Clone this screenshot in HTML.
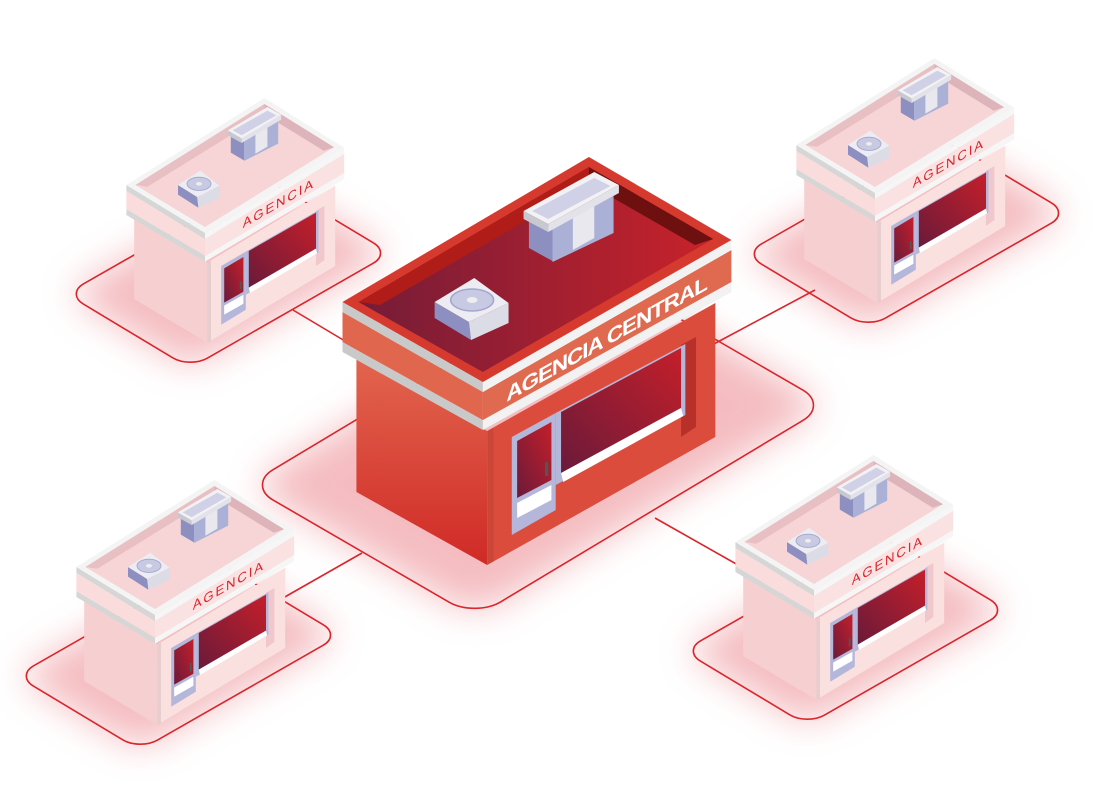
<!DOCTYPE html>
<html><head><meta charset="utf-8"><style>
html,body{margin:0;padding:0;background:#fff;}
svg{display:block;}
.c{--wl:url(#gcl);--wr:#dc4c3c;--wrs:#b8302a;--tw:#f2f2f2;--tw2:#c9c9c9;--bl:#e0674e;--br:#e06a50;--rim:#d63a2e;--floor:url(#gcf);--iwl:#b01c18;--iwr:#6e1010;}
.s{--wl:#f6d0d0;--wr:#fbe0e0;--wrs:#f0c8cc;--tw:#f6f6f6;--tw2:#d6d6d6;--bl:#fadcdc;--br:#fbe2e2;--rim:#f4f4f4;--floor:#f7d4d6;--iwl:#e8c0c4;--iwr:#dcb4ba;}
</style></head><body>
<svg width="1109" height="796" viewBox="0 0 1109 796" xmlns="http://www.w3.org/2000/svg">
<defs>
<linearGradient id="gcl" x1="0" y1="0" x2="0" y2="1"><stop offset="0" stop-color="#e2654e"/><stop offset="1" stop-color="#d02a26"/></linearGradient>
<linearGradient id="gcf" x1="0" y1="0" x2="1" y2="0"><stop offset="0" stop-color="#741c38"/><stop offset="1" stop-color="#c8222a"/></linearGradient>
<linearGradient id="gg" x1="0" y1="1" x2="1" y2="0"><stop offset="0" stop-color="#6a1a3a"/><stop offset="1" stop-color="#c41f2a"/></linearGradient>
<filter id="bl" x="-50%" y="-50%" width="200%" height="200%"><feGaussianBlur stdDeviation="18"/></filter>
<g id="b">
<polygon points="350,358 472,431 472,565 350,492" style="fill:var(--wl)"/>
<polygon points="472,431 685,303 685,437 472,565" style="fill:var(--wr)"/>
<polygon points="653,345 667,337 667,427 653,437" style="fill:var(--wrs)"/>
<polygon points="472,431 478,428 478,562 472,565" fill="#000" opacity="0.08"/>
<polygon points="495,437 536,413 536,510 495,535" fill="#b4b6da"/>
<polygon points="500,441 532,422 532,480 500,498" fill="url(#gg)"/>
<polygon points="500,503 532,485 532,500 500,518" fill="#ffffff"/>
<rect x="526" y="462" width="3" height="14" fill="#555"/>
<polygon points="536,413 657,344 657,415 536,485" fill="#b4b6da"/>
<polygon points="541,412 653,348 653,408 541,473" fill="url(#gg)"/>
<polygon points="541,473 653,408 655,416 543,482" fill="#ffffff"/>
<polygon points="337,342 468,420 468,430 337,352" style="fill:var(--tw2)"/>
<polygon points="468,420 700,282 700,292 468,430" style="fill:var(--tw)"/>
<polygon points="337,312 468,392 468,420 337,342" style="fill:var(--bl)"/>
<polygon points="468,392 700,250 700,282 468,420" style="fill:var(--br)"/>
<polygon points="337,302 468,382 468,392 337,312" style="fill:var(--tw2)"/>
<polygon points="468,382 700,240 700,250 468,392" style="fill:var(--tw)"/>
<polygon points="337,302 567,157 700,240 468,382" style="fill:var(--rim)"/>
<polygon points="352,302 567,167 683,239 468,372" style="fill:var(--floor)"/>
<polygon points="352,302 567,167 567,184 372,305" style="fill:var(--iwl)"/>
<polygon points="567,167 683,239 666,245 567,184" style="fill:var(--iwr)"/>
<polygon points="423,302 455,322 457,340 423,318" fill="#8c8fc0"/>
<polygon points="455,322 492,303 492,323 457,340" fill="#dcdce6"/>
<polygon points="423,302 460,278 492,303 455,322" fill="#ececf2"/>
<ellipse cx="458" cy="300" rx="20" ry="11" fill="#c8c9e2" stroke="#a4a6cc" stroke-width="1.5"/>
<ellipse cx="458" cy="300" rx="5" ry="3" fill="#eee"/>
<polygon points="511,216 533,229 533,261 511,248" fill="#8c8fc0"/>
<polygon points="533,229 590,196 590,233 533,262" fill="#aab0d6"/>
<polygon points="552,218 572,206 572,238 552,250" fill="#e8e8ee"/>
<polygon points="506,211 529,224 529,232 506,219" fill="#c8c8d0"/>
<polygon points="529,224 595,185 595,193 529,232" fill="#e2e2ea"/>
<polygon points="506,211 572,172 595,185 529,224" fill="#f2f2f4"/>
<polygon points="514,211 572,178 587,186 529,219" fill="#d0d1e6"/>
</g>
</defs>

<g filter="url(#bl)" opacity="0.7">
<rect x="-12" y="-12" width="412" height="263" rx="30" fill="#f0a0a6" transform="matrix(0.858,-0.515,-0.866,-0.502,475,605)"/>
<rect x="-8" y="-8" width="231" height="144" rx="20" fill="#f0a0a6" transform="matrix(0.869,-0.497,-0.859,-0.516,190,360)"/>
<rect x="-8" y="-8" width="231" height="144" rx="20" fill="#f0a0a6" transform="matrix(0.869,-0.497,-0.859,-0.516,868,320)"/>
<rect x="-8" y="-8" width="231" height="144" rx="20" fill="#f0a0a6" transform="matrix(0.869,-0.497,-0.859,-0.516,140,742)"/>
<rect x="-8" y="-8" width="231" height="144" rx="20" fill="#f0a0a6" transform="matrix(0.869,-0.497,-0.859,-0.516,807,717)"/>
</g>
<g fill="none" stroke="#d8262c" stroke-width="1.6">
<rect x="-12" y="-12" width="412" height="263" rx="30" vector-effect="non-scaling-stroke" transform="matrix(0.858,-0.515,-0.866,-0.502,475,605)"/>
<rect x="-8" y="-8" width="231" height="144" rx="20" vector-effect="non-scaling-stroke" transform="matrix(0.869,-0.497,-0.859,-0.516,190,360)"/>
<rect x="-8" y="-8" width="231" height="144" rx="20" vector-effect="non-scaling-stroke" transform="matrix(0.869,-0.497,-0.859,-0.516,868,320)"/>
<rect x="-8" y="-8" width="231" height="144" rx="20" vector-effect="non-scaling-stroke" transform="matrix(0.869,-0.497,-0.859,-0.516,140,742)"/>
<rect x="-8" y="-8" width="231" height="144" rx="20" vector-effect="non-scaling-stroke" transform="matrix(0.869,-0.497,-0.859,-0.516,807,717)"/>
<line x1="293" y1="310" x2="360" y2="350"/>
<line x1="815" y1="290" x2="712" y2="345"/>
<line x1="283" y1="598" x2="362" y2="553"/>
<line x1="655" y1="518" x2="738" y2="565"/>
</g>

<g transform="translate(-75.8,3.8) scale(0.6)">
<use href="#b" class="s"/>
<text transform="translate(531,374) skewY(-30)" font-family="Liberation Sans, sans-serif" font-size="22" fill="#d8262c" textLength="117" lengthAdjust="spacing">AGENCIA</text>
</g>
<g transform="translate(594.2,-36.2) scale(0.6)">
<use href="#b" class="s"/>
<text transform="translate(531,374) skewY(-30)" font-family="Liberation Sans, sans-serif" font-size="22" fill="#d8262c" textLength="117" lengthAdjust="spacing">AGENCIA</text>
</g>
<g transform="matrix(1.0714,0,0,1,-18.57,0)">
<use href="#b" class="c"/>
<text transform="translate(490,402) skewY(-31)" font-family="Liberation Sans, sans-serif" font-size="21" font-weight="bold" fill="#ffffff" textLength="188" lengthAdjust="spacing">AGENCIA CENTRAL</text>
</g>
<g transform="translate(-125.8,385.8) scale(0.6)">
<use href="#b" class="s"/>
<text transform="translate(531,374) skewY(-30)" font-family="Liberation Sans, sans-serif" font-size="22" fill="#d8262c" textLength="117" lengthAdjust="spacing">AGENCIA</text>
</g>
<g transform="translate(533.2,360.8) scale(0.6)">
<use href="#b" class="s"/>
<text transform="translate(531,374) skewY(-30)" font-family="Liberation Sans, sans-serif" font-size="22" fill="#d8262c" textLength="117" lengthAdjust="spacing">AGENCIA</text>
</g>
</svg>
</body></html>
